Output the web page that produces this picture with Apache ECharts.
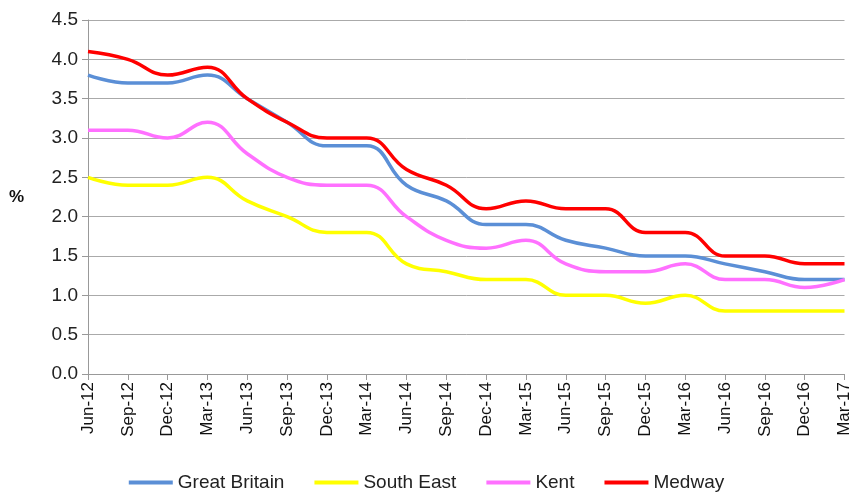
<!DOCTYPE html>
<html lang="en" style="height: 100%">
<head>
  <meta charset="utf-8">
  <title>Unemployment rate - echart</title>
</head>
<body style="height: 100%; margin: 0">
  <div id="container" style="height: 100%"></div>
  <script type="text/javascript" src="https://fastly.jsdelivr.net/npm/echarts@6.0.0/dist/echarts.min.js"></script>

  <script type="text/javascript">
    var dom = document.getElementById('container');
    var myChart = echarts.init(dom, null, {
      renderer: 'canvas',
      useDirtyRect: false
    });

    const quarters = ['Jun-12', 'Sep-12', 'Dec-12', 'Mar-13', 'Jun-13', 'Sep-13', 'Dec-13', 'Mar-14',
      'Jun-14', 'Sep-14', 'Dec-14', 'Mar-15', 'Jun-15', 'Sep-15', 'Dec-15', 'Mar-16',
      'Jun-16', 'Sep-16', 'Dec-16', 'Mar-17'];

    const greatBritain = [3.8, 3.7, 3.7, 3.8, 3.5, 3.2, 2.9, 2.9, 2.4, 2.2, 1.9, 1.9, 1.7, 1.6, 1.5, 1.5, 1.4, 1.3, 1.2, 1.2];
    const southEast = [2.5, 2.4, 2.4, 2.5, 2.2, 2.0, 1.8, 1.8, 1.4, 1.3, 1.2, 1.2, 1.0, 1.0, 0.9, 1.0, 0.8, 0.8, 0.8, 0.8];
    const kent = [3.1, 3.1, 3.0, 3.2, 2.8, 2.5, 2.4, 2.4, 2.0, 1.7, 1.6, 1.7, 1.4, 1.3, 1.3, 1.4, 1.2, 1.2, 1.1, 1.2];
    const medway = [4.1, 4.0, 3.8, 3.9, 3.5, 3.2, 3.0, 3.0, 2.6, 2.4, 2.1, 2.2, 2.1, 2.1, 1.8, 1.8, 1.5, 1.5, 1.4, 1.4];

    const font = 'Liberation Sans';

    function line(name, data, color) {
      return {
        name: name,
        type: 'line',
        data: data,
        smooth: 0.45,
        showSymbol: false,
        lineStyle: { color: color, width: 3.5 },
        itemStyle: { color: color }
      };
    }

    var option = {
      animation: false,
      textStyle: { fontFamily: font },
      grid: {
        top: 20,
        left: 88,
        right: 8,
        bottom: 121
      },
      legend: {
        bottom: -2,
        left: 'center',
        itemWidth: 44,
        itemHeight: 4,
        itemGap: 30,
        icon: 'rect',
        textStyle: { fontSize: 19, color: '#222', fontFamily: font }
      },
      xAxis: {
        type: 'category',
        data: quarters,
        boundaryGap: false,
        axisLine: { lineStyle: { color: '#999' } },
        axisTick: { show: true, lineStyle: { color: '#999' }, length: 6 },
        axisLabel: { rotate: 90, fontSize: 17, color: '#111', interval: 0, margin: 8 }
      },
      yAxis: {
        type: 'value',
        min: 0,
        max: 4.5,
        interval: 0.5,
        name: '%',
        nameLocation: 'middle',
        nameRotate: 0,
        nameGap: 64,
        nameTextStyle: { fontSize: 17, fontWeight: 'bold', color: '#111' },
        axisLine: { show: true, lineStyle: { color: '#999' } },
        axisTick: { show: true, lineStyle: { color: '#999' }, length: 6 },
        axisLabel: {
          fontSize: 19,
          color: '#222',
          margin: 10,
          formatter: v => v.toFixed(1)
        },
        splitLine: { lineStyle: { color: '#aaa' } }
      },
      series: [
        line('Great Britain', greatBritain, '#5b8fd6'),
        line('South East', southEast, '#ffff00'),
        line('Kent', kent, '#ff70ff'),
        line('Medway', medway, '#ff0000')
      ]
    };

    if (option && typeof option === 'object') {
      myChart.setOption(option);
    }

    window.addEventListener('resize', myChart.resize);
  </script>
</body>
</html>
